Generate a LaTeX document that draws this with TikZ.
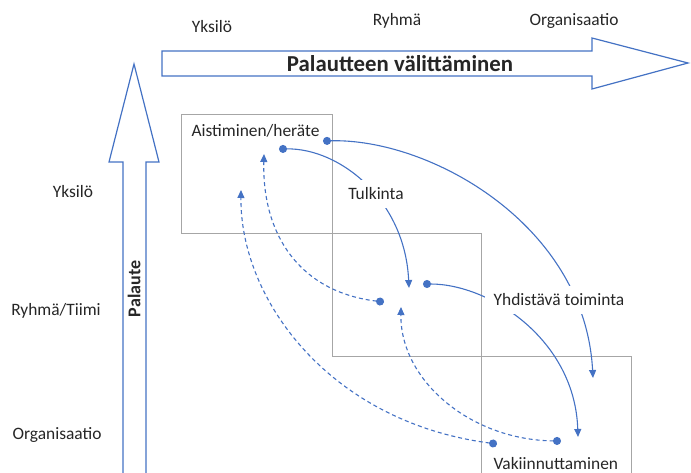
\documentclass[tikz,border=0pt]{standalone}
\usepackage{fontspec}
\setmainfont{Carlito}
\usepackage{tikz}
\usetikzlibrary{arrows.meta,positioning}

\definecolor{officeblue}{HTML}{4472C4}
\definecolor{framegray}{HTML}{A6A6A6}
\definecolor{txtgray}{HTML}{262626}

\begin{document}
\begin{tikzpicture}[
  x=1pt, y=-1pt,
  font=\fontsize{17.4}{20}\selectfont,
  every node/.style={text=txtgray},
  frame/.style={draw=framegray,line width=1pt},
  bigarrow/.style={draw=officeblue,line width=1.2pt,fill=white},
  cut/.style={fill=white,inner xsep=9pt,inner ysep=8pt},
  flow/.style={draw=officeblue,line width=1.1pt,
               {Circle[length=8pt]}-{Triangle[length=8pt,width=7pt]}},
  back/.style={flow,dash pattern=on 4pt off 3pt}
]
\useasboundingbox (0,0) rectangle (691,473);

% ===================== block arrows =====================
% horizontal: feedback is passed on
\draw[bigarrow] (162,51) -- (592,51) -- (592,38) -- (688,63) -- (592,89)
  -- (592,76) -- (162,76) -- cycle;
\node[font=\bfseries\fontsize{22.8}{25}\selectfont] (sendtxt) at (400,64) {Palautteen välittäminen};
% vertical: feedback
\draw[bigarrow] (123,480) -- (123,162) -- (109,162) -- (134,64) -- (159,162)
  -- (146,162) -- (146,480);
\node[rotate=90,font=\bfseries\fontsize{18}{20}\selectfont] (fbtxt) at (134,289) {Palaute};

% ===================== level headings =====================
\node (colA) at (212,27) {Yksilö};
\node (colB) at (397,21) {Ryhmä};
\node (colC) at (574,21) {Organisaatio};
\node (rowA) at (73,192) {Yksilö};
\node (rowB) at (56,311) {Ryhmä/Tiimi};
\node (rowC) at (57,435) {Organisaatio};

% ===================== stage frames =====================
\draw[frame] (181,115) rectangle (332,234);
\draw[frame] (332,234) rectangle (481,356);
\draw[frame] (481,480) -- (481,356) -- (631,356) -- (631,480);
\node[anchor=west] (sense) at (188,131) {Aistiminen/heräte};
\node[anchor=west] (settle) at (490,464) {Vakiinnuttaminen};

% ===================== connector ends =====================
\coordinate (s1) at (279,149);  \coordinate (e1) at (409,288);
\coordinate (s2) at (323,141);  \coordinate (e2) at (593,378);
\coordinate (s3) at (423,284);  \coordinate (e3) at (578,437);
\coordinate (b1) at (384,302);  \coordinate (f1) at (264,154);
\coordinate (b2) at (561,441);  \coordinate (f2) at (401,307);
\coordinate (b3) at (497,444);  \coordinate (f3) at (241,190);

% forward flow (solid)
\draw[flow] (s1) .. controls (340,148) and (405,200) .. (e1);
\draw[flow] (s2) .. controls (430,138) and (585,225) .. (e2);
\draw[flow] (s3) .. controls (490,284) and (575,340) .. (e3);
% feedback (dashed)
\draw[back] (b1) .. controls (300,292) and (262,235) .. (f1);
\draw[back] (b2) .. controls (470,440) and (400,380) .. (f2);
\draw[back] (b3) .. controls (330,422) and (240,300) .. (f3);

% labels sit on the curves
\node[cut] (interp) at (376,194) {Tulkinta};
\node[cut] (unite) at (559,300) {Yhdistävä toiminta};

\end{tikzpicture}
\end{document}
